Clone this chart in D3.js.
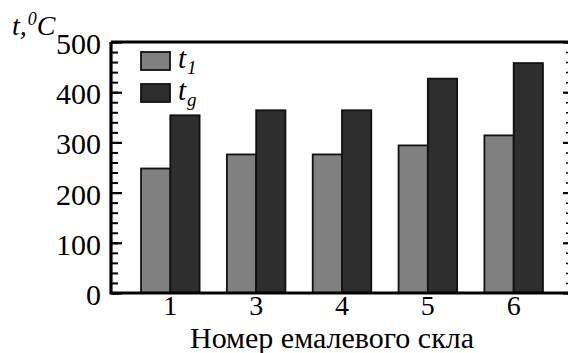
<!DOCTYPE html>
<html><head><meta charset="utf-8">
<script src="https://cdn.jsdelivr.net/npm/d3@7"></script>
<style>html,body{margin:0;padding:0;background:#fff;overflow:hidden} text{font-family:"Liberation Serif","Times New Roman",serif}</style>
</head><body>
<svg id="c" width="568" height="353"></svg>
<script>
const categories = ["1","3","4","5","6"];
const t1 = [248, 276, 276, 294, 314];
const tg = [354, 364, 364, 427, 458];
const seriesNames = ["t1","tg"];
const yTicks = [0,100,200,300,400,500];

const colors = {t1:"#808080", tg:"#2e2e2e"};
const svg = d3.select("#c");
const L = 111, R = 573, T = 42, B = 293;

const x = d3.scaleBand().domain(categories).range([L, R]).paddingInner(0.318).paddingOuter(0.35);
const xs = d3.scaleBand().domain(seriesNames).range([0, x.bandwidth()]);
const y = d3.scaleLinear().domain([0, 500]).range([B, T]);

const data = categories.map((c,i)=>({c, t1:t1[i], tg:tg[i]}));

// bars
const g = svg.append("g");
data.forEach(d=>{
  seriesNames.forEach(s=>{
    g.append("rect")
      .attr("x", x(d.c)+xs(s))
      .attr("y", y(d[s]))
      .attr("width", xs.bandwidth())
      .attr("height", y(0)-y(d[s]))
      .attr("fill", colors[s])
      .attr("stroke", "#111")
      .attr("stroke-width", 1.8);
  });
});

const minor = d3.range(0, 501, 20);
// left axis ticks
const la = d3.axisRight(y).tickValues(minor).tickSize(7).tickFormat("");
const lg = svg.append("g").attr("transform",`translate(${L},0)`).call(la);
lg.select(".domain").remove();
lg.selectAll("line").attr("stroke","#000").attr("stroke-width",2);
const lm = d3.axisRight(y).tickValues(yTicks).tickSize(11).tickFormat("");
const lmg = svg.append("g").attr("transform",`translate(${L},0)`).call(lm);
lmg.select(".domain").remove();
lmg.selectAll("line").attr("stroke","#000").attr("stroke-width",2.2);

// right axis ticks
const ra = d3.axisLeft(y).tickValues(minor).tickSize(7).tickFormat("");
const rg = svg.append("g").attr("transform",`translate(${R},0)`).call(ra);
rg.select(".domain").remove();
rg.selectAll("line").attr("stroke","#000").attr("stroke-width",1.5);
const rm = d3.axisLeft(y).tickValues(yTicks).tickSize(10).tickFormat("");
const rmg = svg.append("g").attr("transform",`translate(${R},0)`).call(rm);
rmg.select(".domain").remove();
rmg.selectAll("line").attr("stroke","#000").attr("stroke-width",2.2);

// y tick labels
svg.append("g").selectAll("text").data(yTicks).join("text")
  .attr("x", L-10).attr("y", d=>y(d)+12)
  .attr("text-anchor","end")
  .attr("font-size",30).attr("fill","#000")
  .text(d=>d);

// x tick labels
svg.append("g").selectAll("text").data(categories).join("text")
  .attr("x", d=>x(d)+x.bandwidth()/2).attr("y", B+22)
  .attr("text-anchor","middle")
  .attr("font-size",28).attr("fill","#000")
  .text(d=>d);

// frame
svg.append("path")
  .attr("d", `M${L},${T}V${B}H${R+5}M${L},${T}H${R+5}`)
  .attr("fill","none").attr("stroke","#000").attr("stroke-width",3.2);
svg.append("line").attr("x1",R).attr("x2",R).attr("y1",T).attr("y2",B).attr("stroke","#000").attr("stroke-width",3);

// x axis title
svg.append("text").attr("x", 332).attr("y", 348)
  .attr("text-anchor","middle")
  .attr("font-size",30).attr("fill","#000")
  .text("Номер емалевого скла");

// y axis title
const yt = svg.append("text").attr("x", 12).attr("y", 35)
  .attr("font-size",28).attr("fill","#000").attr("font-style","italic");
yt.append("tspan").text("t,");
yt.append("tspan").attr("font-size",18).attr("dy",-10).attr("dx",1).text("0");
yt.append("tspan").attr("dy",10).text("C");

// legend
const legend = svg.append("g");
const legendLabels = [{s:"t1", base:"t", sub:"1"},{s:"tg", base:"t", sub:"g"}];
legendLabels.forEach((d,i)=>{
  const ly = 52 + i*32;
  legend.append("rect").attr("x",141).attr("y",ly).attr("width",29).attr("height",18)
    .attr("fill",colors[d.s]).attr("stroke","#111").attr("stroke-width",1.8);
  const t = legend.append("text").attr("x",178).attr("y",ly+16)
    .attr("font-size",29).attr("font-style","italic").attr("fill","#000");
  t.append("tspan").text(d.base);
  t.append("tspan").attr("font-size",19).attr("dy",6).attr("dx",1).text(d.sub);
});
</script>
</body></html>
